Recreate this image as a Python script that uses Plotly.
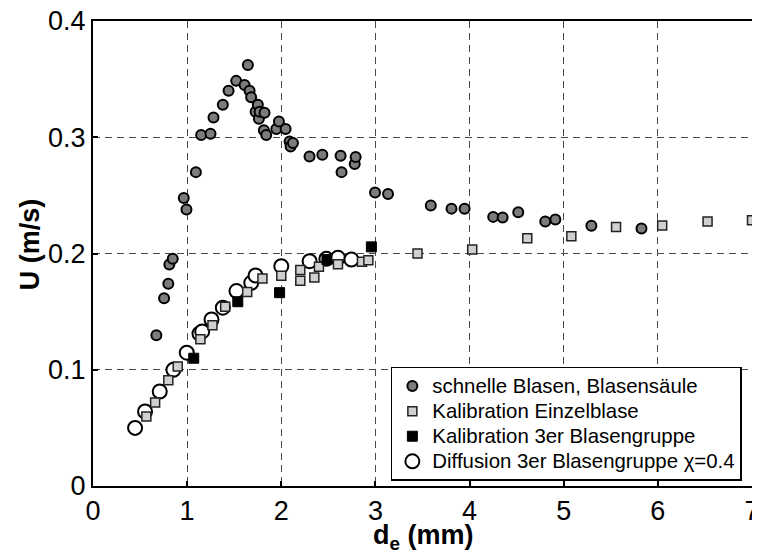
import plotly.graph_objects as go

# schnelle Blasen, Blasensäule (gray circles)
fast_x = [0.673, 0.755, 0.80, 0.811, 0.847, 0.964, 0.993, 1.093, 1.149, 1.248, 1.28, 1.379, 1.44,
          1.521, 1.61, 1.645, 1.663, 1.68, 1.727, 1.751, 1.762, 1.77, 1.815, 1.822, 1.84, 1.947,
          1.975, 2.046, 2.088, 2.099, 2.124, 2.30, 2.436, 2.63, 2.64, 2.78, 2.79, 2.996, 3.134,
          3.588, 3.808, 3.947, 4.251, 4.351, 4.517, 4.804, 4.911, 5.294, 5.826]
fast_y = [0.1296, 0.1616, 0.174, 0.1906, 0.1955, 0.2478, 0.2378, 0.270, 0.302, 0.303, 0.317, 0.328,
          0.340, 0.3485, 0.345, 0.3622, 0.340, 0.3345, 0.322, 0.328, 0.316, 0.322, 0.306, 0.321,
          0.302, 0.307, 0.3136, 0.307, 0.2964, 0.292, 0.295, 0.2835, 0.285, 0.284, 0.270, 0.277,
          0.283, 0.2524, 0.2512, 0.2412, 0.2386, 0.2384, 0.2315, 0.2309, 0.2355, 0.2275, 0.2292,
          0.2238, 0.2215]

# Kalibration Einzelblase (light gray squares)
single_x = [0.567, 0.66, 0.80, 0.90, 1.141, 1.269, 1.404, 1.638, 1.80, 2.0, 2.202, 2.202, 2.351,
            2.40, 2.602, 2.857, 2.925, 3.447, 4.028, 4.613, 5.081, 5.556, 6.046, 6.528, 7.0]
single_y = [0.0598, 0.0718, 0.091, 0.1027, 0.1262, 0.1382, 0.1542, 0.1668, 0.1785, 0.1808, 0.1857,
            0.1766, 0.1794, 0.1886, 0.1908, 0.1929, 0.1943, 0.200, 0.2034, 0.2131, 0.2149, 0.2229,
            0.224, 0.2275, 0.2286]

# Kalibration 3er Blasengruppe (black squares)
group_x = [1.07, 1.538, 1.982, 2.485, 2.957]
group_y = [0.1099, 0.1585, 0.1663, 0.1948, 0.2057]

# Diffusion 3er Blasengruppe chi=0.4 (white circles)
diff_x = [0.447, 0.553, 0.709, 0.854, 0.996, 1.131, 1.16, 1.259, 1.379, 1.524, 1.681, 1.727, 2.0,
          2.301, 2.479, 2.602, 2.745]
diff_y = [0.050, 0.0641, 0.0813, 0.0999, 0.1147, 0.1311, 0.1330, 0.1433, 0.1534, 0.1677, 0.1748,
          0.1811, 0.1891, 0.1934, 0.1954, 0.1963, 0.1948]

x_ticks = [0, 1, 2, 3, 4, 5, 6, 7]
y_ticks = [0, 0.1, 0.2, 0.3, 0.4]
y_tick_text = ["0", "0.1", "0.2", "0.3", "0.4"]

FONT = "Liberation Sans, Arial, sans-serif"


def legend_label(s):
    return '<span style="font-size:20.4px">' + s + "</span>"


fig = go.Figure()
fig.add_trace(go.Scatter(
    x=fast_x, y=fast_y, mode="markers", name=legend_label("schnelle Blasen, Blasensäule"), legendrank=1,
    marker=dict(symbol="circle", size=10, color="#7c7c7c", line=dict(color="black", width=2)),
    cliponaxis=False))
fig.add_trace(go.Scatter(
    x=diff_x, y=diff_y, mode="markers", name=legend_label("Diffusion 3er Blasengruppe χ=0.4"), legendrank=4,
    marker=dict(symbol="circle", size=14, color="white", line=dict(color="black", width=2)),
    cliponaxis=False))
fig.add_trace(go.Scatter(
    x=single_x, y=single_y, mode="markers", name=legend_label("Kalibration Einzelblase"), legendrank=2,
    marker=dict(symbol="square", size=9, color="#d0d0d0", line=dict(color="#222222", width=1.5)),
    cliponaxis=False))
fig.add_trace(go.Scatter(
    x=group_x, y=group_y, mode="markers", name=legend_label("Kalibration 3er Blasengruppe"), legendrank=3,
    marker=dict(symbol="square", size=10, color="black", line=dict(color="black", width=1)),
    cliponaxis=False))

axis_font = dict(family=FONT, size=27, color="black")
common_axis = dict(
    showline=True, mirror=True, linecolor="black", linewidth=2,
    ticks="inside", ticklen=5, tickcolor="black", tickwidth=1.5,
    showgrid=True, gridcolor="#4a4a4a", gridwidth=1, griddash="7px,5px",
    zeroline=False, tickfont=axis_font, automargin=False, ticklabeloverflow="allow",
)
# the page body adds an 8px offset, so the figure is drawn 8px smaller and shifted
fig.update_layout(
    width=752, height=543,
    margin=dict(l=85, r=8, t=13, b=65, autoexpand=False),
    paper_bgcolor="white", plot_bgcolor="white",
    font=dict(family=FONT, color="black"),
    showlegend=True,
    legend=dict(
        x=0.452, y=0.0108, xanchor="left", yanchor="bottom",
        bgcolor="white", bordercolor="black", borderwidth=1.5,
        font=dict(family=FONT, size=17, color="black"),
        tracegroupgap=0, itemsizing="trace",
    ),
    xaxis=dict(range=[0, 7], tickvals=x_ticks, ticktext=[str(v) for v in x_ticks], **common_axis),
    yaxis=dict(range=[0, 0.4], tickvals=y_ticks, ticktext=y_tick_text, **common_axis),
    annotations=[
        dict(text="<b>d<sub>e</sub> (mm)</b>", xref="paper", yref="paper", x=0.502, y=-0.11,
             xanchor="center", yanchor="middle", showarrow=False,
             font=dict(family=FONT, size=27, color="black")),
        dict(text="<b>U (m/s)</b>", xref="paper", yref="paper", x=-0.0956, y=0.52,
             xanchor="center", yanchor="middle", showarrow=False, textangle=-90,
             font=dict(family=FONT, size=27, color="black")),
    ],
)

fig.write_html("out.html")
